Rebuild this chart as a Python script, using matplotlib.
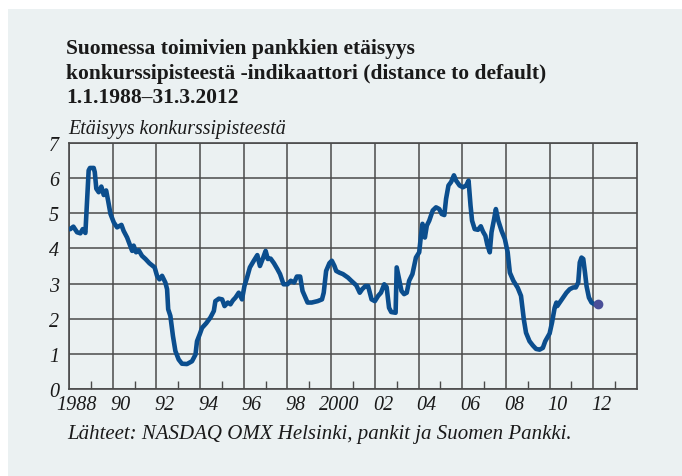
import matplotlib
matplotlib.use("Agg")
import matplotlib.pyplot as plt
from matplotlib.patches import Rectangle
from matplotlib.ticker import FixedLocator
from matplotlib.transforms import ScaledTranslation

title_lines = ["Suomessa toimivien pankkien etäisyys",
               "konkurssipisteestä -indikaattori (distance to default)",
               "1.1.1988–31.3.2012"]
y_label = "Etäisyys konkurssipisteestä"
source = "Lähteet: NASDAQ OMX Helsinki, pankit ja Suomen Pankki."

x_ticks = [1988, 1990, 1992, 1994, 1996, 1998, 2000, 2002, 2004, 2006, 2008, 2010, 2012]
x_tick_labels = ["1988", "90", "92", "94", "96", "98", "2000", "02", "04", "06", "08", "10", "12"]
y_ticks = [0, 1, 2, 3, 4, 5, 6, 7]

dates = [1988.00, 1988.06, 1988.20, 1988.37, 1988.52, 1988.63, 1988.75, 1988.83, 1988.90, 1988.96,
         1989.13, 1989.18, 1989.25, 1989.36, 1989.48, 1989.59, 1989.70, 1989.79, 1989.90, 1990.05,
         1990.20, 1990.40, 1990.50, 1990.66, 1990.80, 1990.89, 1990.96, 1991.07, 1991.19, 1991.34,
         1991.50, 1991.68, 1991.80, 1991.92, 1992.03, 1992.14, 1992.26, 1992.41, 1992.49, 1992.54,
         1992.64, 1992.76, 1992.87, 1993.02, 1993.17, 1993.40, 1993.63, 1993.79, 1993.86, 1993.98,
         1994.09, 1994.28, 1994.47, 1994.63, 1994.70, 1994.86, 1995.01, 1995.12, 1995.27, 1995.39,
         1995.50, 1995.62, 1995.77, 1995.92, 1996.03, 1996.15, 1996.28, 1996.46, 1996.62, 1996.74,
         1996.89, 1997.00, 1997.10, 1997.23, 1997.38, 1997.54, 1997.66, 1997.82, 1998.00, 1998.15,
         1998.31, 1998.43, 1998.58, 1998.69, 1998.82, 1998.92, 1999.11, 1999.38, 1999.58, 1999.66,
         1999.77, 1999.92, 2000.03, 2000.15, 2000.23, 2000.38, 2000.54, 2000.77, 2000.92, 2001.15,
         2001.31, 2001.42, 2001.57, 2001.69, 2001.85, 2002.00, 2002.15, 2002.28, 2002.43, 2002.54,
         2002.65, 2002.75, 2002.95, 2003.00, 2003.11, 2003.22, 2003.34, 2003.46, 2003.57, 2003.72,
         2003.88, 2004.03, 2004.11, 2004.18, 2004.29, 2004.38, 2004.49, 2004.65, 2004.80, 2004.95,
         2005.06, 2005.18, 2005.26, 2005.37, 2005.49, 2005.62, 2005.72, 2005.88, 2006.03, 2006.18,
         2006.29, 2006.38, 2006.45, 2006.57, 2006.72, 2006.85, 2006.95, 2007.06, 2007.15, 2007.26,
         2007.34, 2007.46, 2007.54, 2007.65, 2007.80, 2007.95, 2008.08, 2008.18, 2008.34, 2008.54,
         2008.69, 2008.82, 2008.92, 2009.08, 2009.23, 2009.38, 2009.54, 2009.69, 2009.80, 2009.92,
         2010.00, 2010.11, 2010.23, 2010.31, 2010.35, 2010.46, 2010.62, 2010.77, 2010.92, 2011.08,
         2011.20, 2011.31, 2011.38, 2011.46, 2011.54, 2011.62, 2011.69, 2011.80, 2011.92, 2012.05,
         2012.20]

values = [4.55, 4.55, 4.62, 4.46, 4.43, 4.55, 4.44, 5.40, 6.22, 6.29,
          6.29, 6.17, 5.70, 5.60, 5.76, 5.52, 5.65, 5.36, 4.98, 4.74,
          4.60, 4.67, 4.50, 4.31, 4.08, 3.93, 4.08, 3.89, 3.95, 3.79,
          3.70, 3.58, 3.52, 3.46, 3.22, 3.12, 3.22, 3.03, 2.84, 2.27,
          2.08, 1.50, 1.08, 0.84, 0.72, 0.71, 0.79, 0.98, 1.36, 1.55,
          1.74, 1.87, 2.03, 2.22, 2.50, 2.57, 2.55, 2.36, 2.46, 2.41,
          2.52, 2.60, 2.74, 2.55, 2.93, 3.17, 3.46, 3.65, 3.81, 3.50,
          3.74, 3.93, 3.70, 3.71, 3.58, 3.41, 3.27, 2.98, 2.98, 3.08,
          3.03, 3.20, 3.20, 2.79, 2.60, 2.46, 2.46, 2.50, 2.55, 2.74,
          3.36, 3.58, 3.65, 3.50, 3.36, 3.31, 3.27, 3.17, 3.08, 2.95,
          2.74, 2.84, 2.93, 2.93, 2.55, 2.50, 2.65, 2.74, 2.98, 2.90,
          2.31, 2.19, 2.17, 3.46, 3.12, 2.79, 2.70, 2.74, 3.08, 3.27,
          3.74, 3.89, 4.36, 4.70, 4.31, 4.65, 4.79, 5.08, 5.17, 5.12,
          4.98, 4.95, 5.41, 5.79, 5.89, 6.08, 5.93, 5.79, 5.74, 5.79,
          5.93, 5.22, 4.79, 4.55, 4.53, 4.63, 4.48, 4.36, 4.10, 3.89,
          4.46, 4.84, 5.12, 4.79, 4.50, 4.27, 3.89, 3.31, 3.08, 2.88,
          2.65, 1.98, 1.60, 1.36, 1.24, 1.14, 1.12, 1.17, 1.36, 1.49,
          1.58, 1.89, 2.31, 2.46, 2.36, 2.46, 2.60, 2.74, 2.84, 2.89,
          2.89, 3.03, 3.60, 3.74, 3.70, 3.31, 2.93, 2.60, 2.46, 2.41,
          2.41]

W, H = 682, 477
fig = plt.figure(figsize=(W / 100, H / 100), dpi=100)
fig.patch.set_facecolor("white")
panel_color = "#ebf1f2"
fig.patches.append(Rectangle((8 / W, 0), 1 - 8 / W, 1 - 10 / H, transform=fig.transFigure,
                             facecolor=panel_color, edgecolor="none", zorder=-10))

serif = ["Liberation Serif", "DejaVu Serif"]
text_color = "#1a1a1a"
grid_color = "#4a4a4a"

ax = fig.add_axes([69 / W, 87 / H, (637 - 69) / W, (390 - 144) / H])
ax.set_facecolor(panel_color)
ax.plot(dates, values, color="#0b4e8e", lw=3.3, solid_capstyle="round", solid_joinstyle="round", zorder=3)
ax.plot(dates[-1:], values[-1:], "o", color="#4a4f98", ms=6, zorder=4)

ax.set_xlim(1988, 2014)
ax.set_ylim(0, 7)
ax.xaxis.set_major_locator(FixedLocator(x_ticks))
ax.set_xticklabels(x_tick_labels)
ax.xaxis.set_minor_locator(FixedLocator(list(range(1989, 2014, 2))))
ax.set_yticks(y_ticks)
ax.grid(True, which="major", color=grid_color, lw=1.1)
ax.tick_params(axis="x", which="major", direction="in", length=0, pad=4)
ax.tick_params(axis="x", which="minor", direction="in", length=6, width=1.0, color=grid_color)
ax.tick_params(axis="y", length=0, pad=7)
for s in ax.spines.values():
    s.set_color(grid_color)
    s.set_linewidth(1.2)
for lbl in ax.get_xticklabels() + ax.get_yticklabels():
    lbl.set_family(serif)
    lbl.set_style("italic")
    lbl.set_fontsize(14.5)
    lbl.set_color(text_color)
shift = ScaledTranslation(8 / 100, 0, fig.dpi_scale_trans)
for lbl in ax.get_xticklabels():
    lbl.set_transform(lbl.get_transform() + shift)

tx = 66 / W
for i, line in enumerate(title_lines):
    fig.text(tx, 1 - (54 + 24.5 * i) / H, line, family=serif, weight="bold", fontsize=15.5,
             color=text_color, va="baseline", ha="left")
fig.text(68 / W, 1 - 134 / H, y_label, family=serif, style="italic", fontsize=14.4,
         color=text_color, va="baseline", ha="left")
fig.text(67 / W, 1 - 439 / H, source, family=serif, style="italic", fontsize=15.0,
         color=text_color, va="baseline", ha="left")

fig.savefig("out.png", dpi=100, facecolor=fig.get_facecolor())
